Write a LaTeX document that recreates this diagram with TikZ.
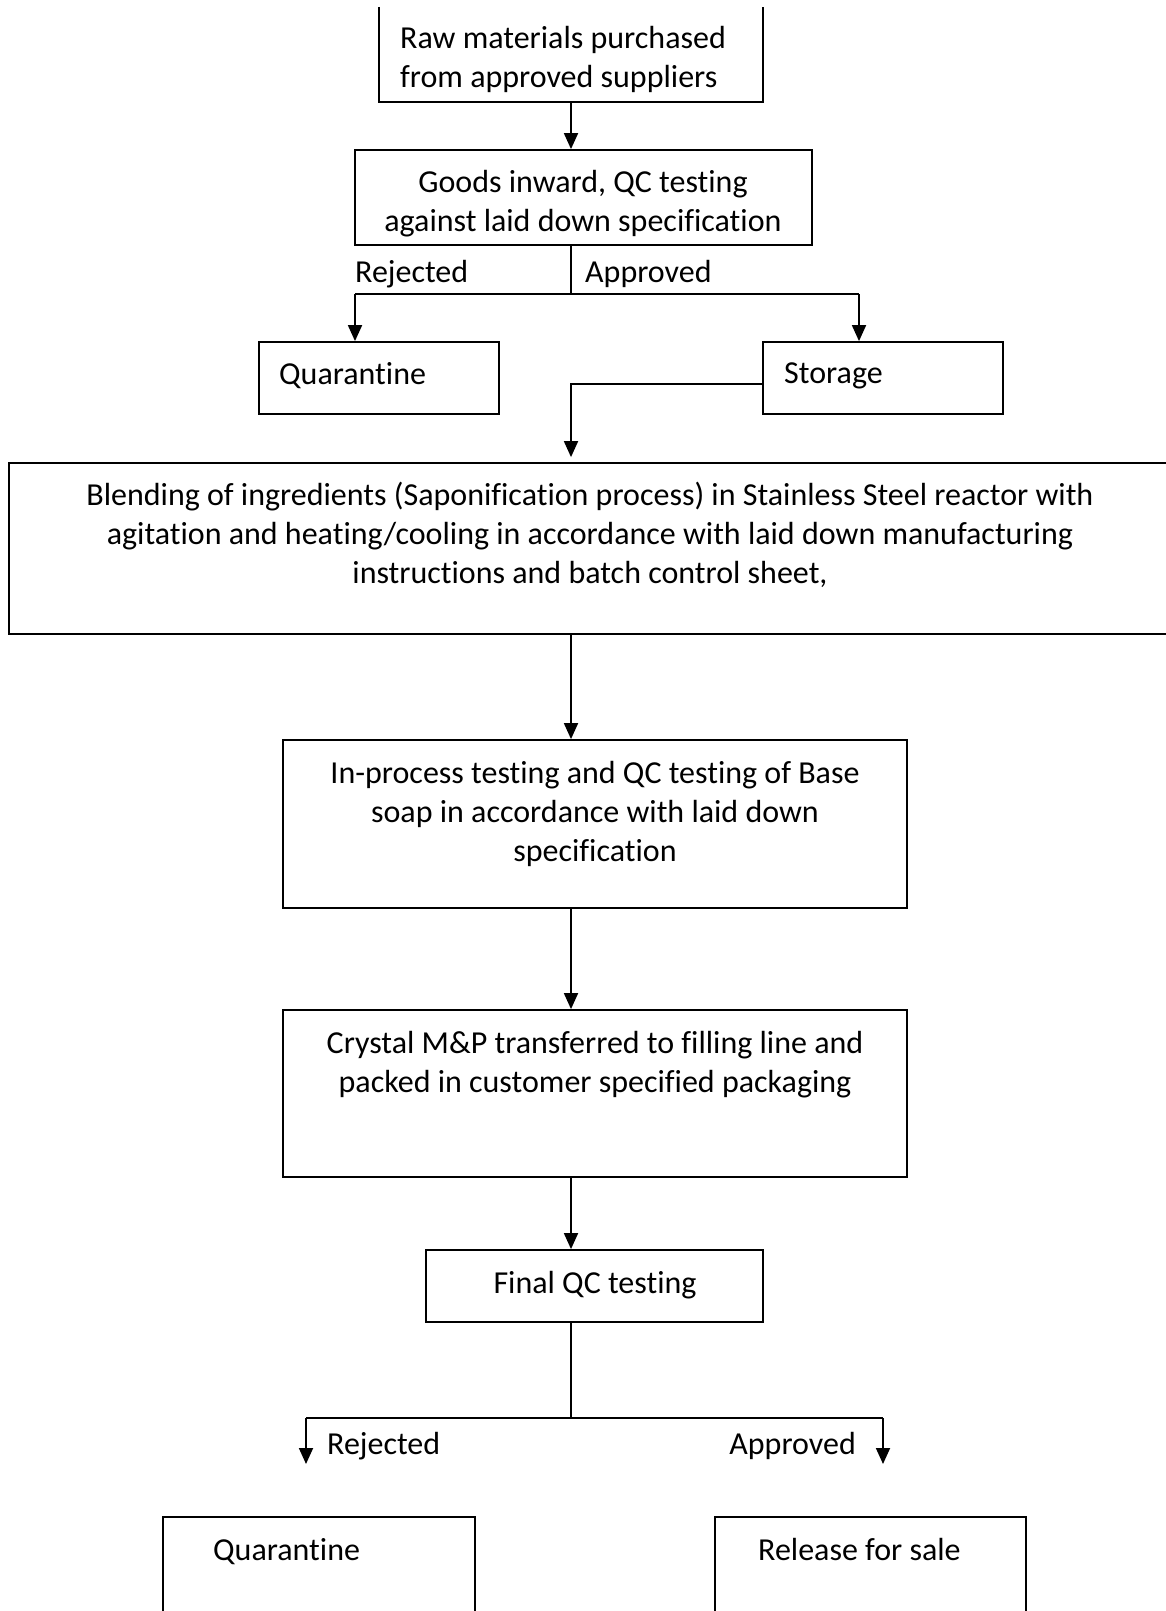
\documentclass[tikz,border=0pt]{standalone}
\usepackage{fontspec}
\setmainfont{Carlito}[Ligatures=NoCommon]
\usetikzlibrary{arrows.meta}
\begin{document}
\begin{tikzpicture}[x=1pt,y=-1pt,
  box/.style={draw, line width=1.8pt, inner sep=0pt, rectangle},
  frame/.style={inner sep=0pt, rectangle},
  txt/.style={inner sep=0pt, yshift=-3pt, font=\fontsize{32}{39}\selectfont, align=center},
  ltxt/.style={inner sep=0pt, yshift=-3pt, font=\fontsize{32}{39}\selectfont, align=left, anchor=west},
  conn/.style={line width=1.8pt},
  arr/.style={conn, -{Triangle[length=16pt,width=14pt]}}]
\useasboundingbox (0,0) rectangle (1166,1611);
% top box (top edge cut off)
\node[frame, minimum width=384, minimum height=95] (raw) at (571,54.5) {};
\draw[conn] (raw.north west) -- (raw.south west) -- (raw.south east) -- (raw.north east);
\node[ltxt] (rawt) at (400,56.5) {Raw materials purchased\\from approved suppliers};
% goods inward
\node[box, minimum width=457, minimum height=95] (goods) at (583.5,197.5) {};
\node[txt] (goodst) at (583,200.5) {Goods inward, QC testing\\against laid down specification};
\draw[arr] (raw.south) -- (goods.north -| raw.south);
% split 1
\coordinate (j1) at (571,294);
\coordinate (r1) at (355,294);
\coordinate (a1) at (859,294);
\node[box, minimum width=240, minimum height=72] (q1) at (379,378) {};
\node[ltxt] (q1t) at (279,373) {Quarantine};
\node[box, minimum width=240, minimum height=72] (st) at (883,378) {};
\node[ltxt] (stt) at (784,373) {Storage};
\draw[conn] (goods.south -| raw.south) -- (j1);
\draw[conn] (r1) -- (a1);
\draw[arr] (r1) -- (r1 |- q1.north);
\draw[arr] (a1) -- (a1 |- st.north);
\node[ltxt] (rej1) at (355,271) {Rejected};
\node[ltxt] (app1) at (585,271) {Approved};
% blending
\node[box, minimum width=1163, minimum height=171] (bl) at (590.5,548.5) {};
\node[txt] (blt) at (590,532) {Blending of ingredients (Saponification process) in Stainless Steel reactor with\\agitation and heating/cooling in accordance with laid down manufacturing\\instructions and batch control sheet,};
\draw[arr, shorten >=5pt] ([yshift=-6pt]st.west) -| (bl.north -| raw.south);
% in-process
\node[box, minimum width=624, minimum height=168] (ip) at (595,824) {};
\node[txt] (ipt) at (595,811) {In-process testing and QC testing of Base\\soap in accordance with laid down\\specification};
\draw[arr] (bl.south -| raw.south) -- (ip.north -| raw.south);
% crystal
\node[box, minimum width=624, minimum height=167] (cr) at (595,1093.5) {};
\node[txt] (crt) at (595,1061.5) {Crystal M\&P transferred to filling line and\\packed in customer specified packaging};
\draw[arr] (ip.south -| raw.south) -- (cr.north -| raw.south);
% final QC
\node[box, minimum width=337, minimum height=72] (fq) at (594.5,1286) {};
\node[txt] (fqt) at (595,1282) {Final QC testing};
\draw[arr] (cr.south -| raw.south) -- (fq.north -| raw.south);
% split 2
\coordinate (j2) at (571,1418);
\coordinate (r2) at (306,1418);
\coordinate (a2) at (883,1418);
\coordinate (r2e) at (306,1464);
\coordinate (a2e) at (883,1464);
\draw[conn] (fq.south -| raw.south) -- (j2);
\draw[conn] (r2) -- (a2);
\draw[arr] (r2) -- (r2e);
\draw[arr] (a2) -- (a2e);
\node[ltxt] (rej2) at (327,1443) {Rejected};
\node[txt, anchor=east] (app2) at (856,1443) {Approved};
% bottom boxes (cut off)
\node[box, minimum width=312, minimum height=123] (q2) at (319,1578.5) {};
\node[ltxt] (q2t) at (213,1549) {Quarantine};
\node[box, minimum width=311, minimum height=123] (rel) at (870.5,1578.5) {};
\node[ltxt] (relt) at (758,1546) {Release for sale};
\end{tikzpicture}
\end{document}
